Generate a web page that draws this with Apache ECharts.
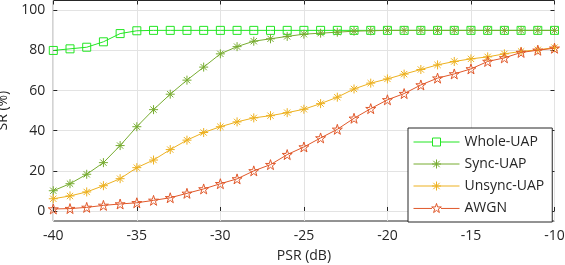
<!DOCTYPE html>
<html>
<head>
<meta charset="utf-8">
<script src="https://cdn.jsdelivr.net/npm/echarts@6/dist/echarts.min.js"></script>
<style>html,body{margin:0;padding:0;background:#fff;}#c{width:565px;height:265px;}</style>
</head>
<body>
<div id="c"></div>
<script>
const psr = [-40,-39,-38,-37,-36,-35,-34,-33,-32,-31,-30,-29,-28,-27,-26,-25,-24,-23,-22,-21,-20,-19,-18,-17,-16,-15,-14,-13,-12,-11,-10];
const wholeUAP = [80.0,80.8,81.6,84.3,88.4,89.8,90,90,90,90,90,90,90,90,90,90,90,90,90,90,90,90,90,90,90,90,90,90,90,90,90];
const syncUAP = [10.1,13.6,18.3,24.1,32.6,42.0,50.5,58.2,65.2,71.7,78.3,81.9,84.6,85.8,87.0,88.1,88.6,89.1,89.6,89.8,90,90,90,90,90,90,90,90,90,90,90];
const unsyncUAP = [6.1,7.5,9.5,12.6,16.1,21.6,25.4,30.6,35.3,39.1,42.0,44.4,46.4,47.5,49.0,50.7,53.5,56.7,60.8,63.7,65.8,68.2,70.5,72.8,74.5,75.8,76.8,78.3,79.5,80.3,81.4];
const awgn = [1.0,1.2,1.8,2.8,3.5,4.1,5.3,6.6,8.8,11.0,13.6,16.0,20.0,23.1,28.1,31.9,36.4,40.7,46.2,51.0,55.4,58.5,62.8,66.2,68.3,70.8,74.5,76.3,79.0,80.1,81.1];
const names = ['Whole-UAP','Sync-UAP','Unsync-UAP','AWGN'];
const yTicks = [0,20,40,60,80,100];
const xTicks = [-40,-35,-30,-25,-20,-15,-10];

const FONT = 'Open Sans';
const TXT = '#262626';
const GRIDC = '#e3e3e3';
const asterisk = 'path://M0,-1L0,1M-1,0L1,0M-0.7,-0.7L0.7,0.7M-0.7,0.7L0.7,-0.7';
const star = 'path://M0,-1L0.2245,-0.309L0.951,-0.309L0.363,0.118L0.588,0.809L0,0.382L-0.588,0.809L-0.363,0.118L-0.951,-0.309L-0.2245,-0.309Z';

// legend icons: line + marker, drawn in a 46 x 10 box
const legIcons = [
  'path://M0,5L19,5M27,5L46,5M19,1L27,1L27,9L19,9Z',
  'path://M0,5L46,5M23,0.5L23,9.5M18.5,5L27.5,5M19.8,1.8L26.2,8.2M19.8,8.2L26.2,1.8',
  'path://M0,5L46,5M23,0.5L23,9.5M18.5,5L27.5,5M19.8,1.8L26.2,8.2M19.8,8.2L26.2,1.8',
  'path://M0,5L18.5,5M27.5,5L46,5M23,0L24.1,3.5L27.8,3.5L24.8,5.6L25.9,9.1L23,7L20.1,9.1L21.2,5.6L18.2,3.5L21.9,3.5Z'
];

function pairs(ys){ return psr.map((x,i)=>[x,ys[i]]); }

const chart = echarts.init(document.getElementById('c'), null, {renderer:'canvas'});
const styles = [
  {color:'#22e622', symbol:'rect', size:8, fill:'rgba(255,255,255,0)'},
  {color:'#77ac30', symbol:asterisk, size:9, fill:'#77ac30'},
  {color:'#edb120', symbol:asterisk, size:9, fill:'#edb120'},
  {color:'#e0582a', symbol:star, size:10, fill:'rgba(255,255,255,0)'}
];
const datasets = [wholeUAP, syncUAP, unsyncUAP, awgn];

chart.setOption({
  animation:false,
  grid:[
    {left:53.3, right:10.5, top:0.5, bottom:44, show:true, borderColor:TXT, borderWidth:1, backgroundColor:'transparent', containLabel:false, outerBoundsMode:'none'},
    {left:53.3, right:10.5, top:10.3, bottom:54, containLabel:false, outerBoundsMode:'none'}
  ],
  xAxis:[
    {gridIndex:0, type:'value', min:xTicks[0], max:xTicks[xTicks.length-1], interval:5, position:'bottom',
     axisLine:{show:false}, axisTick:{show:true, inside:true, length:4, lineStyle:{color:TXT}},
     axisLabel:{color:TXT, fontFamily:FONT, fontSize:14, margin:8},
     splitLine:{show:true, lineStyle:{color:GRIDC, width:1}},
     name:'PSR (dB)', nameLocation:'middle', nameGap:28, nameTextStyle:{color:TXT, fontFamily:FONT, fontSize:14}},
    {gridIndex:1, type:'value', min:-40, max:-10, show:false},
    {gridIndex:0, type:'value', min:-40, max:-10, interval:5, position:'top',
     axisLine:{show:false}, axisTick:{show:true, inside:true, length:4, lineStyle:{color:TXT}},
     axisLabel:{show:false}, splitLine:{show:false}}
  ],
  yAxis:[
    {gridIndex:0, type:'value', min:-5, max:105, show:false},
    {gridIndex:1, type:'value', min:yTicks[0], max:yTicks[yTicks.length-1], interval:20, position:'left',
     axisLine:{show:false}, axisTick:{show:true, inside:true, length:4, lineStyle:{color:TXT}},
     axisLabel:{color:TXT, fontFamily:FONT, fontSize:14, margin:8},
     splitLine:{show:true, lineStyle:{color:GRIDC, width:1}},
     name:'SR (%)', nameLocation:'middle', nameGap:35, nameRotate:90, nameTextStyle:{color:TXT, fontFamily:FONT, fontSize:14}},
    {gridIndex:1, type:'value', min:0, max:100, interval:20, position:'right',
     axisLine:{show:false}, axisTick:{show:true, inside:true, length:4, lineStyle:{color:TXT}},
     axisLabel:{show:false}, splitLine:{show:false}}
  ],
  legend:{
    orient:'vertical', left:408, top:128,
    data: names.map((n,i)=>({name:n, icon:legIcons[i],
      itemStyle:{color:'rgba(255,255,255,0)', borderColor:styles[i].color, borderWidth:1}})),
    backgroundColor:'#fff', borderColor:TXT, borderWidth:1, padding:[7,8,7,5],
    itemWidth:46, itemHeight:10, itemGap:8,
    textStyle:{color:TXT, fontFamily:FONT, fontSize:14}
  },
  series: names.map((n,i)=>({
    name:n, type:'line', xAxisIndex:1, yAxisIndex:1,
    data:pairs(datasets[i]),
    symbol:styles[i].symbol, symbolSize:styles[i].size, showAllSymbol:true,
    lineStyle:{color:styles[i].color, width:1},
    itemStyle:{color:styles[i].fill, borderColor:styles[i].color, borderWidth:1},
    z: 2+i
  }))
});
</script>
</body>
</html>
